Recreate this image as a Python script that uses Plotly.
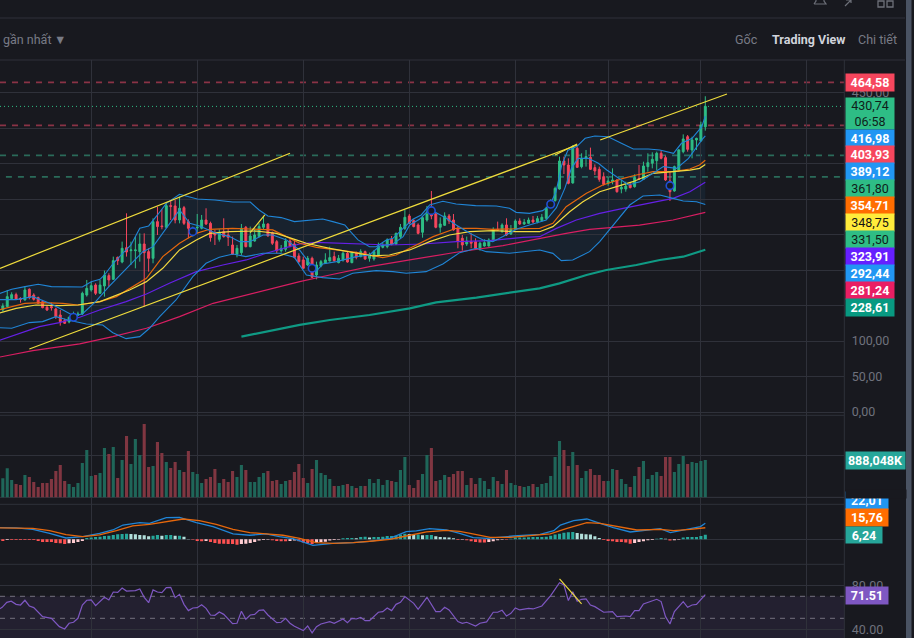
import plotly.graph_objects as go

W, H = 914, 638
BG = "#18191f"
GRID = "#2f313a"
FONT = "Roboto"
GREEN, RED = "#2ebd85", "#f6465d"

# ---------- price series, one value per bar ----------
opens = [158.8,143.8,148.5,159.8,165.4,160.2,157.9,172.9,164.9,161.2,155.5,147.6,148.5,145.2,136.7,128.8,126.9,134.4,136.3,138.2,
164.9,172,179,167.3,177.6,192.2,187,218,211.4,231.6,227.4,227.4,226,236.8,226,216.6,268.3,262.2,260.3,290.8,
290.4,270.6,288,268.3,254.2,259.4,258.9,270.6,265.9,252.8,243.4,254.2,249.5,235.4,222.7,224.6,260.3,233,241,247.2,
260.3,265,252.8,240.1,227.4,229.3,241,236.8,219.9,214.3,207.2,216.6,193.1,205.8,209.6,212.9,219,210.5,214.3,223.7,
210.5,223.7,219,226,216.6,215.7,221.3,232.1,233,243.4,236.8,247.2,258.9,276.3,269.7,263.6,253.3,270.6,287.1,279.1,
260.3,263.1,276.3,270.6,258.9,244.8,236.8,240.1,240.1,230.7,234,234,241.5,257.5,254.2,263.6,250.9,257.5,269.2,265,
265.9,270.6,267.8,269.7,273,289.4,297.9,314.3,353.8,348.1,322.8,371.6,345.8,357.5,358.9,344.4,342,331.7,322.3,324.6,
327,314.3,314.3,319.9,317.6,329.3,327.9,345.8,350.5,354.2,364.6,358.5,325.6,311.5,341.1,366.9,388,369.3,383.4,381.9,402]
highs = [161.6,153.2,172,168.7,168.2,161.6,177.6,174.3,167.3,162.6,157.9,150.8,154.1,147.1,143.8,131.6,134.4,141.4,141.4,169.6,
186.1,183.7,181.4,186.1,199.2,195.5,219,219,240.1,280,240.1,247.2,251.8,251.8,230.7,273,289.4,285.7,294.1,298.8,
298.8,303.5,290.4,271.6,261.3,279.1,277.7,287.1,268.3,256.6,257.5,273,258.9,247.2,235.4,265,262.2,261.3,258.9,265.9,
276.3,265.9,254.2,242.5,235.4,244.8,243.4,242.5,223.7,219,219.9,219,211.9,214.3,223.7,233,226,221.3,226,226,
226,226,229.3,227.4,224.6,228.4,238.7,238.7,244.8,248.1,252.8,265,284.7,279.1,271.6,265.9,276.3,290.4,311.5,281,
274.4,281.4,279.1,279.1,262.2,249.5,247.2,251.8,244.8,240.1,243.4,244.8,260.3,268.3,265.9,273,263.6,271.6,273,272.1,
274,276.3,276.3,279.1,289.4,299.8,317.6,359.9,359.9,357.5,376.3,374,364.6,369.3,372.6,349,345.8,337.8,331.7,343.4,
327.9,327,324.6,323.7,335,348.1,352.8,364.6,366,366.9,368.8,361.3,338.7,347.2,370.7,391.3,390.4,388,386.6,409.2,445]
lows = [141.5,141.5,147.6,157.9,157.9,154.1,157,158.8,157,152.3,146.1,142.4,142.9,131.1,121.7,124.1,125,132.1,135.3,136.7,
162.6,169.6,164.9,166.4,162.6,176.7,186.1,207.2,209.6,219,207.2,202.5,211.9,148.5,197.8,209.6,249.5,257.5,258.9,270.6,
265.9,265.9,263.6,244.8,247.2,251.8,257.5,263.6,240.1,235.4,240.1,245.7,234,221.3,218,221.3,232.1,232.1,240.1,246.2,
257.5,247.2,235.4,223.7,224.6,226,232.1,216.6,209.6,202.5,205.8,188.9,187,203.9,208.6,211.9,211.9,209.6,211.9,210.5,
209.6,215.2,218,214.3,211.9,213.3,219.9,230.7,230.7,234.9,235.4,244.8,256.6,265,260.3,250.4,245.7,268.3,271.6,258.9,
252.8,262.2,265,255.6,230.7,227.4,234,230.7,228.4,227.4,233,233,240.1,255.6,252.8,248.1,249.5,256.6,263.6,263.6,
265,265.9,265.9,268.3,270.6,287.1,296.4,313.4,335.4,320.9,321.8,344.4,343.4,345.8,341.1,334,324.6,319,319,320.9,
309.1,308.2,310.5,315.2,316.2,327,327,338.7,343.4,341.1,356.1,325.6,297.4,310.5,338.7,364.6,366.9,357.5,369.3,381,396.5]
closes = [143.8,149.4,162.6,165.4,159.3,158.8,172,161.2,158.8,153.2,147.1,143.8,147.1,134.4,127.4,125,133.5,136.7,138.2,167.3,
174.3,178.1,167.3,179,193.1,186.1,213.3,213.3,230.7,225.5,228.4,228.4,236.8,224.6,216.6,268.3,261.3,261.3,290.8,289.9,
270.6,287.1,265.9,258.9,257.5,260.3,270.6,265,245.7,249.5,252.8,247.2,246.2,222.3,230.7,258.9,233,248.1,249.5,261.3,
265,248.1,237.8,227.4,230.7,241,234,218,211.9,202.5,216.6,189.8,207.2,211.9,214.3,217.6,213.3,216.6,223.7,211.4,
224.6,218,226,215.7,222.3,226,233,235.4,242.5,236.8,251.8,260.3,274.4,265.9,261.3,251.8,273.9,279.1,276.3,260.3,
265,276.3,269.2,256.6,240.1,235.4,241,237.8,230.7,237.8,238.7,242.5,257.5,256.6,263.6,249.5,257.5,269.2,265,267.4,
270.6,267.8,272.5,274.4,287.1,296.5,315.2,353.8,348.1,322.3,372.6,344.8,357.5,359.9,342,339.7,327.9,320.9,325.6,327,
310.5,316.6,318.5,316.2,330.3,328.4,346.7,351.4,356.1,364.6,357.5,327,310.5,345.8,369.3,384.8,370.2,383.4,385.7,404.5,430.74]
volume_k = [626,452,690,412,317,293,531,484,365,246,341,341,436,626,769,389,317,246,341,817,1126,
508,531,579,1174,1031,1197,460,888,1459,793,1388,1007,1745,722,745,1316,1055,841,698,841,
650,603,1102,603,555,341,436,484,674,341,436,365,626,484,769,650,365,365,484,579,
626,389,412,317,389,412,603,793,460,341,674,888,579,531,436,270,270,293,317,270,
222,270,270,436,341,436,293,412,389,365,650,960,293,222,412,555,1007,1174,389,412,
531,484,555,626,
626,293,460,317,460,389,198,484,389,317,650,341,293,270,246,270,317,246,317,341,
508,960,1340,1126,745,1078,769,460,626,674,531,531,389,389,674,650,436,317,246,508,
722,864,436,531,603,508,960,960,603,793,983,793,841,817,864,888]
macd_hist = [-1.4,-2.3,-0.9,-0.9,-0.9,-0.9,-0.9,-0.9,-0.9,-2.3,-3.6,-3.6,-3.6,-5,-5.5,-6.4,-5.5,-5,-3.6,-2.3,1.8,
2.3,3.2,3.6,4.5,5,5.9,6.8,7.3,7.7,7.3,6.8,5.9,5.5,4.1,5,5.9,5,5.9,5.9,5,
5,3.6,.5,-.5,-2.3,-2.7,-2.3,-3.6,-5,-5.9,-5.9,-6.4,-6.4,-7.3,-6.4,-5.9,-5,-3.6,-1.8,-.9,
-.5,-1.4,-2.3,-2.7,-2.7,-2.3,-1.8,-2.7,-4.5,-5.5,-6.4,-4.5,-3.6,-3.2,-1.8,-.9,-.5,1.4,1.8,1.8,
1.4,3.2,3.6,2.3,3.2,3.2,3.6,4.5,4.5,5,6.4,7.7,7.3,6.4,6.4,5.5,5.9,5.9,4.1,3.2,
2.7,2.3,1.4,-.9,
-.5,-1.4,-2.7,-3.6,-4.5,-4.5,-3.6,-2.7,-1.4,-.5,-.5,.9,2.3,2.3,2.3,2.7,3.2,3.2,3.2,3.6,
5,6.4,7.7,9.1,9.5,10,8.6,7.7,6.8,6.4,4.1,1.8,-.9,-2.3,-2.7,-3.6,-3.6,-4.5,-5.9,-5,
-3.6,-2.7,-1.4,-.9,.9,1.8,.9,-1.8,-1.4,-.5,2.3,3.2,3.2,3.2,4.5,6.24]
for s in (highs, lows, closes, volume_k, macd_hist):
    assert len(s) == len(opens) == 161, len(s)

# ---------- indicator lines: (bar, value) readings ----------
bb_upper = [(0,166.3),(3,172.9),(6,176.7),(9,180),(12,176.7),(14,176.7),(17,176.7),(19,176.2),(21,183.7),(23,187),(24,193.1),(26,209.6),(28,222.7),(30,235.4),(32,258.9),(34,262.2),(36,277.7),(38,294.1),(41,306.8),(45,300.2),(49,298.8),(53,296),(57,296),(59,284.7),(61,276.3),(64,274),(67,268.3),(70,270.4),(73.4,272.1),(75.7,268.3),(78.4,263.6),(79.9,252.8),(81.4,242.5),(84,233),(85.5,233),(87.8,242.5),(89.3,244.8),(91.6,258.9),(93.8,271.6),(95.7,277.7),(97.6,291.8),(100.6,297),(103.6,293.2),(108,290.8),(112.7,290.4),(115.7,287.1),(117.2,281.4),(120.2,280),(123.2,283.8),(124.8,291.8),(126.2,310),(127.5,348),(128.9,369),(130.9,374),(132.8,385.7),(135,389),(138,388),(141,378.7),(143.7,370.7),(147.1,370.7),(149.7,369.3),(152.8,364.6),(154.6,378.7),(157,385.7),(159.2,402.2),(160,416.98)]
bb_basis = [(0,158.4),(4,158.4),(7.8,162.6),(11.6,153.2),(14.6,143.8),(17,135.8),(19,138.2),(22,155.5),(25,176.7),(29,202.5),(32.7,226),(35,233),(38.7,265.9),(41,284.7),(43.3,265.9),(45.5,262.2),(49.3,251.8),(52.3,247.2),(54.6,240.1),(56.9,240.1),(59.9,249.5),(62.1,249.5),(65.2,242.5),(68.2,228),(71.9,197.8),(73.4,208.6),(76.5,211.9),(81,219),(84,221.3),(86.3,234),(89.3,236.8),(91.6,247.2),(93.1,263.6),(95.3,271.6),(97.6,285.7),(101.4,273),(103.6,263.6),(106.7,251.8),(109.7,242.5),(111.9,240.1),(114.2,247.2),(117.2,257.5),(120.2,263.6),(124,270.6),(126.3,288),(128.2,315.2),(129.7,343.4),(131.2,357.5),(133.5,357.5),(135.8,350.5),(137.7,341.1),(140.3,329.3),(142.6,319.9),(145.2,324.6),(148.6,338.7),(150.5,345.8),(153.5,343.4),(156.2,357.5),(159.2,383.4),(160,389.12)]
bb_lower = [(0,118.9),(3,118),(7,126),(10,127.4),(13,134.4),(15.7,129.7),(19.9,124),(23.6,122.7),(25.9,111.8),(28.9,103.4),(32,106.2),(34.2,118),(36.5,134.4),(40.2,157.9),(44,190.8),(47,209.6),(50,218),(53.1,222.7),(56,219),(59.9,223.7),(63.6,223.7),(67,218),(69.7,193.1),(73.4,189.4),(77.2,187.5),(80.2,195.5),(85.5,199.2),(89.3,197.8),(92.3,195.5),(96.8,197.8),(100.6,208.6),(104.4,224.6),(108.2,230.7),(110.4,226),(115.7,223.7),(120.2,227),(122.5,228.3),(125.5,223.6),(127.4,213.3),(130,214.2),(133.8,226),(136.1,240),(139.1,263.5),(142.9,291.7),(145.9,304.4),(149.7,305.8),(152.7,301.1),(155,297.4),(158,296.4),(160,292.44)]
ema_orange = [(0,143.8),(3,148.5),(6,153.2),(10,154.1),(14.6,153.2),(18,150.8),(23,155.5),(26.7,162.6),(30.4,176.7),(33.5,188.4),(37.2,219),(41,237.8),(44.8,251.8),(47.8,257.5),(53,258.9),(57.6,257.5),(62.1,256.6),(65.2,247.2),(68.2,237.8),(72,232.1),(81,225.1),(87,217.6),(90,221.3),(93.8,233),(98.4,247.2),(103.6,258.9),(108.2,258.9),(111.9,257.5),(118.7,258.9),(122.5,258.8),(125.5,265.9),(128.5,289.4),(133.1,308.2),(136.8,319.9),(141.4,329.3),(144.4,334),(148.2,338.7),(152.7,338.7),(156.5,342.5),(158.7,348.1),(160,354.71)]
ema_yellow = [(0,139.1),(4,146.1),(8.5,150.8),(13.8,149.9),(18,150.8),(23,155.5),(25.9,162.6),(29.7,172),(33.5,183.7),(37.2,202.5),(41,228.4),(44.8,242.5),(47.8,251.8),(52.3,254.2),(58.4,255.1),(62.9,251.8),(67.4,242.5),(69.7,237.8),(75,230.7),(81,223.7),(84.8,219.9),(88.5,221.3),(93.1,228.4),(97.6,240.1),(102.1,249.5),(106.7,254.2),(111.9,255.6),(117.2,254.2),(122.5,254.1),(125.5,261.2),(129.3,282.3),(132.3,296.4),(136.1,310.5),(139.9,317.6),(143.6,324.6),(148.2,336.4),(152,338.7),(156.5,341),(158.7,343.4),(160,348.75)]
ema_purple = [(0,100.6),(4.8,110.9),(9.3,120.3),(13.8,125.9),(18.4,133.5),(22.9,143.8),(28.9,155.5),(33.5,166.3),(38.7,181.4),(44.8,197.8),(50.8,207.2),(56.1,214.3),(60.6,223.7),(65.9,233),(68.2,236.8),(71.9,239.2),(81,236.8),(88.5,235.4),(96.1,236.8),(103.6,240.1),(111.2,241.5),(118.7,246.2),(122.5,247.1),(126.3,258.8),(130.8,270.6),(136.1,280),(141.4,287),(147.4,294.1),(152.7,301.1),(156.5,310.5),(160,323.91)]
ema_pink = [(0,77.1),(7.8,86.5),(18.4,95.9),(25.9,106.2),(33.5,118),(41,134.4),(48.6,153.2),(56.1,164.9),(63.6,176.7),(68.2,183.7),(75,193.1),(84,204.9),(93.1,214.3),(103.6,225.1),(114.2,234.5),(122.5,244.7),(128.5,251.8),(133.8,257.4),(145.1,263.5),(152.7,270.6),(160,281.24)]
ema_teal = [(55,106.2),(68.2,122.7),(75,129.7),(84,136.7),(93.1,146.1),(99.1,154.6),(108.2,161.2),(117.2,169.6),(122.5,174.3),(127,181.3),(133.1,193.1),(137.6,200.1),(144.4,207.2),(149.7,214.2),(155,218.9),(160,228.61)]
trendlines = [[(0.36,202.5),(66,364.6)],[(7,88.8),(131,376.3)],[(136.2,383.4),(164.9,448.2)],[(57,252.7),(60.3,277.7)],[(126,362.2),(131,377.7)]]
signal_bars = [17,44,71,98,125,152]
signal_prices = [133.5,254.2,202.5,283.8,292.7,319]
level_red = [464.58,403.93]
level_green = [361.80,331.50]
last_price = 430.74

macd_line = [(0.25,15.9),(4,15.5),(7.8,13.6),(11.6,8.2),(15.3,1.8),(19.1,3.6),(22.9,8.2),(25.9,12.7),(28.2,19.5),(32,22.7),(34.2,21.8),(35.7,25),(38,29.5),(41,30),(44.8,22.7),(48.6,17.3),(53.1,7.3),(56.9,5.5),(60.6,7.3),(63.6,3.6),(66.7,.9),(71.2,-8.2),(75.7,-5.5),(80.3,-4.5),(84,-2.7),(88.6,1.4),(92.3,10.5),(94.6,11.4),(97.6,14.5),(101.4,12.7),(104.4,8.2),(107.5,2.3),(110.6,1.4),(116.6,4.5),(122.6,6.8),(125.7,11.8),(127.2,19.5),(130.2,25.5),(133.2,27.7),(136.2,21.8),(139.2,15.9),(143,10),(146.8,12.7),(149.8,14.5),(152.1,9.1),(155.9,13.6),(158.9,17.3),(160,22.01)]
macd_signal = [(0.25,15.5),(7.8,15),(11.6,11.8),(15.3,6.4),(19.1,3.6),(22.9,5.9),(26.7,11.8),(30.4,18.2),(34.2,20.5),(38,24.1),(41.8,27.7),(45.5,25.5),(49.3,20.5),(53.1,13.6),(56.9,9.1),(60.6,7.3),(64.4,5.5),(68.2,1.4),(71.9,-4.5),(75.7,-5.5),(80.3,-4.5),(84.8,-2.3),(88.6,0),(92.3,4.5),(96.9,10),(101.4,12.3),(104.4,10.9),(106.8,8.2),(111.3,2.7),(115.8,2.7),(121.1,5.5),(124.9,7.3),(128.7,15),(133.2,22.7),(136.2,21.8),(140.7,17.3),(144.5,12.7),(149.8,13.6),(152.8,11.8),(156.6,13.6),(160,15.76)]

rsi_bars = [.25,.85,1.9,2.9,4,5,6,7,8,10,12,13.8,15,16,17,18,19,20,21,22,24,25,26,27,28,29,31,32,33,34,35,36,37,38,39,40,41,42,43,44,45,46,47,48,49,50,51,53,54,55,56,57,58,59,60,61,63,64,65,66,67,68,69,70,71,72,73,75,76,78,79,80,81,82,83,84,86,87,88,89,90,91,92,94,95,97,98,99,100,101,102,104,105,106,108,109,110.5,112,113,114,115,116,117,118,120,121,123,125,127,128,129,130,131,132,133,134,135,137,139,140,142,143,144,145,146,147,149,150,151,152,153,155,156,157,158,160]
rsi_vals = [58.5,60,64.5,65.5,62.7,62.1,66.4,61.2,59.7,51.5,50,42.4,40.3,45.5,46.4,50,62.1,66.4,66.7,61.5,69.1,66.7,73.9,73.6,77.6,74.8,75.2,76.7,69.1,64.2,75.8,73.9,73.3,77.9,78.2,68.8,71.8,62.7,57,59.4,59.7,62.4,59.1,53,52.7,55.8,53.6,45.2,45.5,56.4,49.1,53,53.6,57.3,57.6,53,46.1,46.4,50,45.5,42.7,40.9,38.8,43,36.7,42.4,44.8,47,45.5,49.4,46.1,50,49.4,50.9,47.9,47.9,55.5,56.1,59.4,57,62.7,64.5,69.7,63.6,58.2,69.1,62.1,56.1,56.1,60,57.6,47,
45.5,46.4,43,45.5,46.7,55.5,55.5,57.3,52.1,54.5,59.4,57.6,59.1,58.5,61.2,70.6,82.4,80.3,66.1,74.2,65.5,67.3,67.6,62.1,60.6,55.5,56.1,51.5,52.1,51.5,57,57,63,64.5,67.3,65.2,51.5,44.8,56.1,65.2,60,62.1,62.7,71.51]
assert len(rsi_bars) == len(rsi_vals), (len(rsi_bars), len(rsi_vals))
rsi_trend = [(127,85.8),(132,63.1)]

price_ticks = [0,50,100,150,200,250,300,350,400,450]
price_tick_text = ["0,00","50,00","100,00","","","","","","","450,00"]
month_bars = [21,45,69,93,117,138,159,183]

# ---------- layout helpers (pixel geometry of the terminal) ----------
bars = list(range(len(opens)))
X0, XR = 0.36, 191.46
PANE_R = 844.3
def px(x): return x / W
def py(y): return 1 - y / H
def dom(top, bot): return [py(bot), py(top)]
def xs(pts): return [p[0] for p in pts]
def ys(pts): return [p[1] for p in pts]

fig = go.Figure()

fig.add_trace(go.Candlestick(x=bars, open=opens, high=highs, low=lows, close=closes,
    increasing=dict(line=dict(color=GREEN, width=1), fillcolor=GREEN),
    decreasing=dict(line=dict(color=RED, width=1), fillcolor=RED),
    whiskerwidth=0, showlegend=False, hoverinfo="skip"))

def line(pts, color, width=1.1, yaxis="y"):
    fig.add_trace(go.Scatter(x=xs(pts), y=ys(pts), mode="lines", yaxis=yaxis, hoverinfo="skip",
                             line=dict(color=color, width=width), showlegend=False))

line(ema_teal, "#0f9a84", 2.2)
line(ema_pink, "#d81e62", 1.2)
line(ema_purple, "#6520e6", 1.2)
line(ema_orange, "#e5670c", 1.2)
line(ema_yellow, "#f2d93f", 1.2)
line(bb_lower, "#2085d6")
line(bb_upper, "#2085d6")
line(bb_basis, "#2085d6")
for t in trendlines:
    line(t, "#efdc3c", 1.2)
fig.add_trace(go.Scatter(x=signal_bars, y=signal_prices, mode="markers", hoverinfo="skip", showlegend=False,
    marker=dict(size=7.5, color="#151a24", line=dict(color="#1f4fd6", width=1.6))))

# Volume
fig.add_trace(go.Bar(x=bars, y=volume_k, yaxis="y2", hoverinfo="skip", showlegend=False,
    marker=dict(color=["#1f6659" if c >= o else "#803641" for o, c in zip(opens, closes)], line_width=0)))

# MACD
hist_colors = []
for i, v in enumerate(macd_hist):
    prev = macd_hist[i - 1] if i else v
    if v >= 0:
        hist_colors.append("#26a69a" if v >= prev else "#b2dfdb")
    else:
        hist_colors.append("#ff5252" if v <= prev else "#ffcdd2")
fig.add_trace(go.Bar(x=bars, y=macd_hist, yaxis="y3", hoverinfo="skip", showlegend=False,
    marker=dict(color=hist_colors, line_width=0)))
line(macd_line, "#2085d6", 1.3, "y3")
line(macd_signal, "#e5670c", 1.3, "y3")

# RSI
fig.add_trace(go.Scatter(x=rsi_bars, y=rsi_vals, mode="lines", yaxis="y4", hoverinfo="skip", showlegend=False,
                         line=dict(color="#7e57c2", width=1.2)))
line(rsi_trend, "#efdc3c", 1.2, "y4")

shapes = []
# Bollinger fill sits under the candles, so it is a below-layer path built from the band readings
band_pts = bb_upper + bb_lower[::-1]
shapes.append(dict(type="path", xref="x", yref="y", layer="below", line_width=0, fillcolor="rgba(33,150,243,0.075)",
                   path="M " + " L ".join(f"{a} {b}" for a, b in band_pts) + " Z"))

def hline_data(val, color, dash, yref="y", x0=0.0, width=1.8):
    shapes.append(dict(type="line", xref="x domain", yref=yref, x0=x0, x1=1, y0=val, y1=val,
                       line=dict(color=color, width=width, dash=dash), layer="below"))
for v in level_red:
    hline_data(v, "#8a3346", "6px,6px")
hline_data(level_green[0], "#2a6b5a", "6px,6px")
hline_data(level_green[1], "#2a6b5a", "6px,6px", x0=0.007)
shapes.append(dict(type="line", xref="x domain", yref="y", x0=0, x1=1, y0=last_price, y1=last_price,
                   line=dict(color=GREEN, width=1, dash="1px,3px"), layer="below"))
# RSI band
shapes.append(dict(type="rect", xref="x domain", yref="y4", x0=0, x1=1, y0=30, y1=70,
                   fillcolor="rgba(126,87,194,0.11)", line_width=0, layer="below"))
for v in (70, 50):
    hline_data(v, "#73717f", "5px,5px", yref="y4", width=1)

def px_line(x0, y0, x1, y1, color=GRID, width=1):
    shapes.append(dict(type="line", xref="paper", yref="paper", x0=px(x0), x1=px(x1), y0=py(y0), y1=py(y1),
                       line=dict(color=color, width=width), layer="below"))
px_line(0, 18, 905, 18)
px_line(0, 60, 905, 60)
px_line(0, 415.3, PANE_R, 415.3)
px_line(0, 497.3, 905, 497.3)
px_line(0, 504.3, PANE_R, 504.3)
px_line(0, 564.3, PANE_R, 564.3)
px_line(PANE_R, 60, PANE_R, 638)
# scroll bar
shapes.append(dict(type="rect", xref="paper", yref="paper", x0=px(906), x1=px(911.5), y0=0, y1=1,
                   fillcolor="#4a5363", line_width=0, layer="above"))
# header icons
ICON = "#6d7079"
shapes.append(dict(type="path", xref="paper", yref="paper", layer="above", line=dict(color=ICON, width=1.2),
    path=f"M {px(814)} {py(4)} L {px(826)} {py(4)} L {px(824)} {py(1)} L {px(824)} {py(0)} M {px(816)} {py(0)} L {px(816)} {py(1)} L {px(814)} {py(4)}"))
shapes.append(dict(type="path", xref="paper", yref="paper", layer="above", line=dict(color=ICON, width=1.2),
    path=f"M {px(845)} {py(6)} L {px(851)} {py(0)} M {px(846)} {py(0)} L {px(851)} {py(0)} L {px(851)} {py(3)}"))
for a, b in ((878, 884), (887, 893)):
    shapes.append(dict(type="rect", xref="paper", yref="paper", x0=px(a), x1=px(b), y0=py(7), y1=py(1), layer="above",
                       line=dict(color=ICON, width=1.3)))

annotations = []
def badge(text, top, bot, width, bg, fg, size=12.5):
    annotations.append(dict(text=text, xref="paper", yref="paper", x=px(845), y=py((top + bot) / 2),
        xanchor="left", yanchor="middle", showarrow=False, width=width, height=bot - top, bgcolor=bg,
        borderpad=0, align="center", valign="middle", font=dict(family=FONT, size=size, color=fg)))

BLUE, ORANGE = "#2196f3", "#ff6d00"
# value badges, bumped apart on the axis as in the terminal: text, box top, box bottom, box width, colours
badge("<b>464,58</b>", 74, 90.7, 48, "#f6465d", "#ffffff")
badge("430,74<br>06:58", 98.3, 129, 48, GREEN, "#0f1e1a")
badge("<b>416,98</b>", 130, 146, 48, BLUE, "#ffffff")
badge("<b>403,93</b>", 146, 163, 48, "#f6465d", "#ffffff")
badge("<b>389,12</b>", 163.3, 180, 48, BLUE, "#ffffff")
badge("361,80", 180, 197, 48, GREEN, "#0f1e1a")
badge("<b>354,71</b>", 197, 213.7, 48, ORANGE, "#ffffff")
badge("348,75", 214, 230.7, 48, "#ffeb3b", "#141414")
badge("331,50", 230.7, 247.7, 48, GREEN, "#0f1e1a")
badge("<b>323,91</b>", 247.7, 264.7, 48, "#651fff", "#ffffff")
badge("<b>292,44</b>", 264.7, 281.7, 48, BLUE, "#ffffff")
badge("<b>281,24</b>", 281.7, 298.7, 48, "#e91e63", "#ffffff")
badge("<b>228,61</b>", 298.7, 315.7, 48, "#089981", "#ffffff")
badge("<b>888,048K</b>", 452, 468.7, 59, "#26a69a", "#ffffff")
badge("<b>22,01</b>", 492, 509, 42, BLUE, "#ffffff")
annotations.append(dict(text=" ", xref="paper", yref="paper", x=px(845), y=py(493.5), xanchor="left", yanchor="middle",
                        showarrow=False, width=60, height=7.5, bgcolor=BG, borderpad=0))
badge("<b>15,76</b>", 509.3, 526, 42, ORANGE, "#ffffff")
badge("<b>6,24</b>", 526.3, 542.7, 36, "#26a69a", "#ffffff")
badge("<b>71.51</b>", 587, 603.7, 42, "#7e57c2", "#ffffff")

def head(text, x, color, bold=False):
    annotations.append(dict(text=f"<b>{text}</b>" if bold else text, xref="paper", yref="paper", x=px(x), y=py(40),
        xanchor="left", yanchor="middle", showarrow=False, font=dict(family=FONT, size=12.5, color=color)))
head("gần nhất", 1, "#787b86")
head("▼", 52, "#787b86")
head("Gốc", 733, "#787b86")
head("Trading View", 770, "#d1d4dc", True)
head("Chi tiết", 856, "#787b86")

def yaxis(top, bot, rng, tickvals, ticktext):
    return dict(domain=dom(top, bot), range=rng, side="right", anchor="x", tickvals=tickvals, ticktext=ticktext,
                showgrid=True, gridcolor=GRID, gridwidth=1, zeroline=False, showline=False, fixedrange=True,
                automargin=False, ticks="outside", ticklen=4, tickcolor="rgba(0,0,0,0)",
                tickfont=dict(family=FONT, size=12.5, color="#6f727d"))

fig.update_layout(
    width=W, height=H, autosize=False, margin=dict(l=0, r=0, t=0, b=0, pad=0),
    paper_bgcolor=BG, plot_bgcolor=BG, showlegend=False, barmode="overlay", bargap=0.3, boxgap=0.38,
    font=dict(family=FONT), shapes=shapes, annotations=annotations, dragmode=False,
    xaxis=dict(domain=[0, PANE_R / W], range=[X0, XR], tickvals=month_bars, showticklabels=False,
               showgrid=True, gridcolor=GRID, gridwidth=1, zeroline=False, showline=False, ticks="", automargin=False,
               rangeslider=dict(visible=False), fixedrange=True, anchor="y4"),
    yaxis=yaxis(60, 415.3, [-4.65, 496.1], price_ticks, price_tick_text),
    yaxis2=yaxis(415.3, 504.3, [-167, 1952], [0, 1000], ["", ""]),
    yaxis3=yaxis(504.3, 564.3, [-34.1, 47.75], [0], [""]),
    yaxis4=yaxis(564.3, 638, [32.1, 99.1], [40, 80], ["40.00", "80.00"]),
)

fig.write_html("out.html", config=dict(displayModeBar=False, staticPlot=True),
               post_script="document.body.style.margin='0';document.documentElement.style.overflow='hidden';document.body.style.background='" + BG + "';")
